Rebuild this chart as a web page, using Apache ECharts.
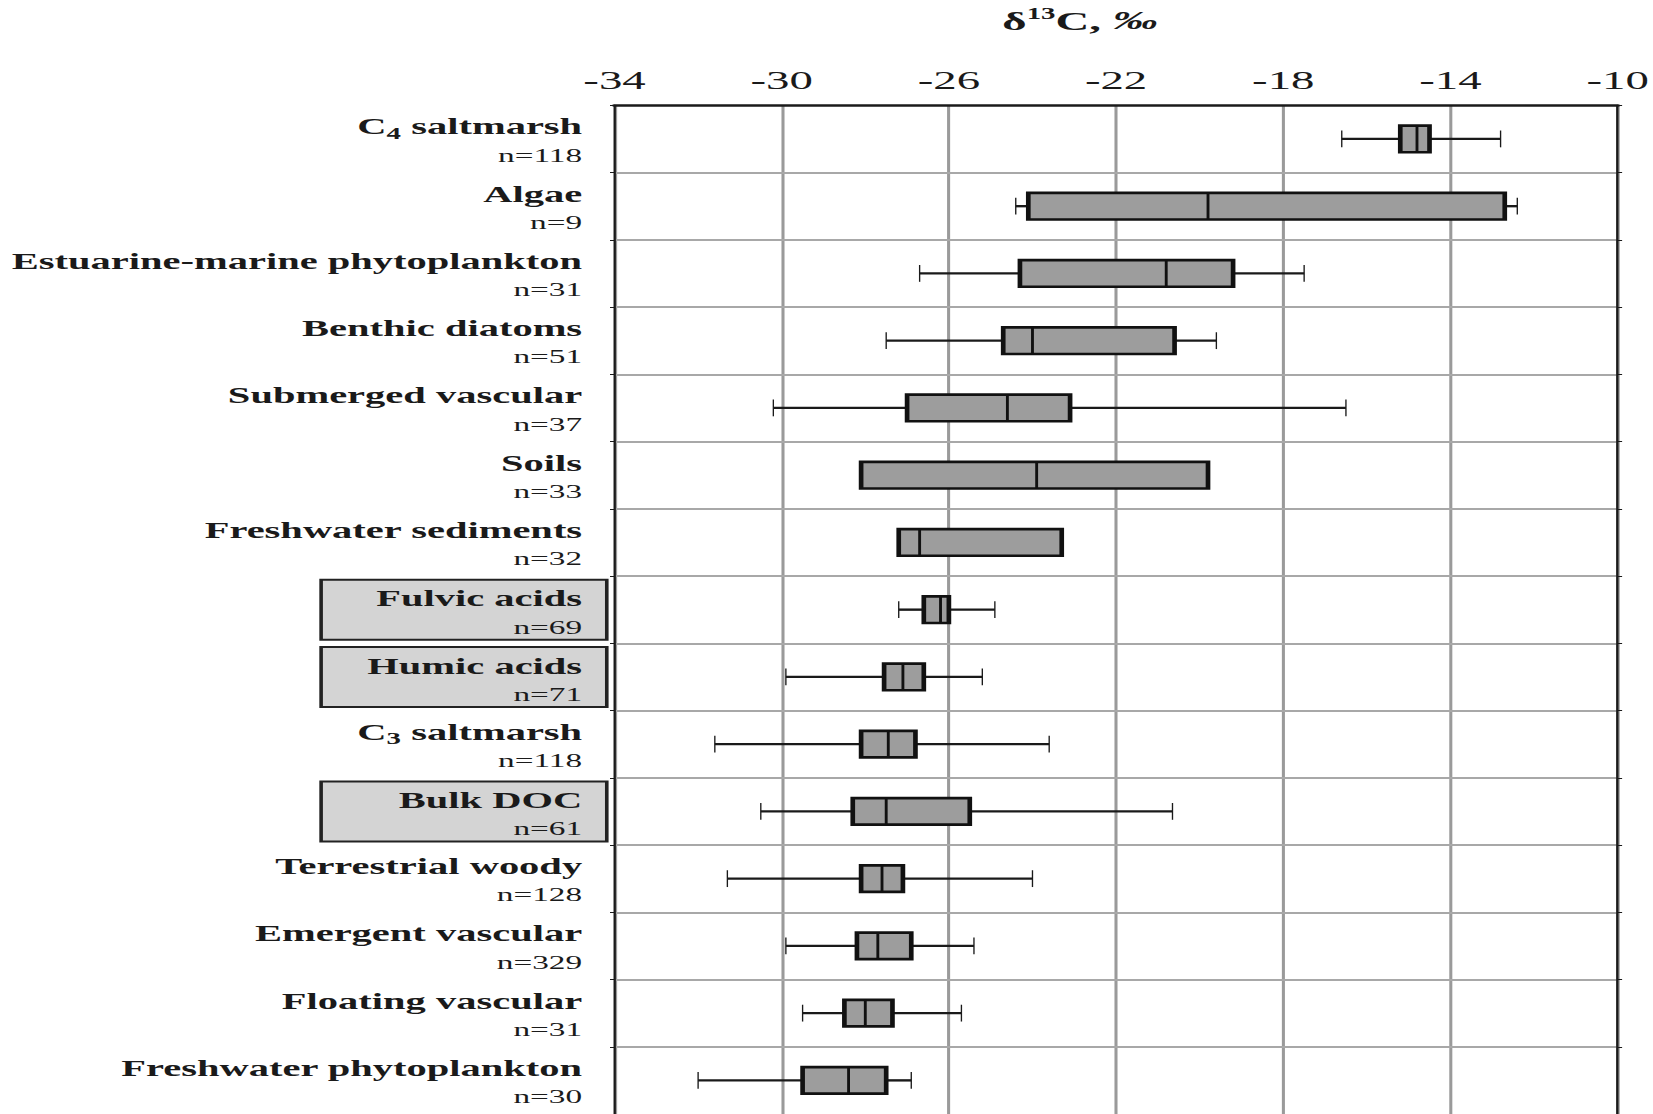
<!DOCTYPE html>
<html>
<head>
<meta charset="utf-8">
<script src="https://cdn.jsdelivr.net/npm/echarts/dist/echarts.min.js"></script>
<style>
html, body { margin: 0; padding: 0; background: #ffffff; overflow: hidden; width: 1653px; height: 1114px; }
#chart { width: 919px; height: 1114px; transform: scaleX(1.8); transform-origin: 0 0; }
</style>
</head>
<body>
<div id="chart"></div>
<script>
// ---- data ----
const categories = ['C₄ saltmarsh', 'Algae', 'Estuarine-marine phytoplankton', 'Benthic diatoms',
  'Submerged vascular', 'Soils', 'Freshwater sediments', 'Fulvic acids', 'Humic acids',
  'C₃ saltmarsh', 'Bulk DOC', 'Terrestrial woody', 'Emergent vascular', 'Floating vascular',
  'Freshwater phytoplankton'];
const sampleCounts = [118, 9, 31, 51, 37, 33, 32, 69, 71, 118, 61, 128, 329, 31, 30];
const boxedLabels = ['Fulvic acids', 'Humic acids', 'Bulk DOC'];
const whiskerLow  = [-16.6, -24.4, -26.7, -27.5, -30.2, -28.1, -27.2, -27.2, -29.9, -31.6, -30.5, -31.3, -29.9, -29.5, -32.0];
const quartile1   = [-15.2, -24.1, -24.3, -24.7, -27.0, -28.1, -27.2, -26.6, -27.55, -28.1, -28.3, -28.1, -28.2, -28.5, -29.5];
const medians     = [-14.8, -19.8, -20.8, -24.0, -24.6, -23.9, -26.7, -26.2, -27.1, -27.45, -27.5, -27.6, -27.7, -28.0, -28.4];
const quartile3   = [-14.5, -12.7, -19.2, -20.6, -23.1, -19.8, -23.3, -26.0, -26.6, -26.8, -25.5, -27.1, -26.9, -27.35, -27.5];
const whiskerHigh = [-12.8, -12.4, -17.5, -19.6, -16.5, -19.8, -23.3, -24.9, -25.2, -23.6, -20.65, -24.0, -25.4, -25.7, -26.9];
const xMin = -34, xMax = -10, xStep = 4;
const axisTitle = '{d|δ}{s|13}{c|C, }{p|‰}';

// ---- chart ----
const SERIF = "'Liberation Serif', 'DejaVu Serif', 'Times New Roman', serif";
const INK = '#1a1a1a';

const rows = categories.map((c, i) => [i, whiskerLow[i], quartile1[i], medians[i], quartile3[i], whiskerHigh[i]]);

const yData = categories.map(c => boxedLabels.indexOf(c) >= 0 ? {
  value: c,
  textStyle: {
    backgroundColor: '#d4d4d4', borderColor: '#222222', borderWidth: 2,
    padding: [4, 12.7, -3, 0], width: 144
  }
} : c);

function labelFormatter(value, idx) {
  const name = value.replace(/([\u2080-\u2089])/g, m => '}{sub|' + (m.charCodeAt(0) - 0x2080) + '}{b|');
  return '{b|' + name + '}\n{n|n=' + sampleCounts[idx] + '}';
}

function renderItem(params, api) {
  const c = api.value(0);
  const pLo = api.coord([api.value(1), c]);
  const pQ1 = api.coord([api.value(2), c]);
  const pMd = api.coord([api.value(3), c]);
  const pQ3 = api.coord([api.value(4), c]);
  const pHi = api.coord([api.value(5), c]);
  const band = api.size([0, 1])[1];
  const y = pMd[1];
  const bh = band * 0.395, ch = band * 0.25;
  const whisk = { stroke: INK, lineWidth: 2.4 };
  const cap = { stroke: INK, lineWidth: 0.75 };
  const kids = [];
  if (pQ1[0] - pLo[0] > 0.3) {
    kids.push({ type: 'line', shape: { x1: pLo[0], y1: y, x2: pQ1[0], y2: y }, style: whisk });
    kids.push({ type: 'line', shape: { x1: pLo[0], y1: y - ch / 2, x2: pLo[0], y2: y + ch / 2 }, style: cap });
  }
  if (pHi[0] - pQ3[0] > 0.3) {
    kids.push({ type: 'line', shape: { x1: pQ3[0], y1: y, x2: pHi[0], y2: y }, style: whisk });
    kids.push({ type: 'line', shape: { x1: pHi[0], y1: y - ch / 2, x2: pHi[0], y2: y + ch / 2 }, style: cap });
  }
  kids.push({ type: 'rect', shape: { x: pQ1[0], y: y - bh / 2, width: pQ3[0] - pQ1[0], height: bh },
    style: { fill: '#9d9d9d', stroke: '#111111', lineWidth: 2.6 } });
  kids.push({ type: 'line', shape: { x1: pMd[0], y1: y - bh / 2, x2: pMd[0], y2: y + bh / 2 },
    style: { stroke: '#111111', lineWidth: 1.6 } });
  return { type: 'group', children: kids };
}

const chart = echarts.init(document.getElementById('chart'), null, { renderer: 'svg' });
chart.setOption({
  animation: false,
  backgroundColor: '#ffffff',
  title: {
    text: axisTitle, left: 600, top: 6, padding: 0, textAlign: 'center',
    textStyle: {
      rich: {
        d: { fontFamily: SERIF, fontSize: 26, color: INK, lineHeight: 30 },
        s: { fontFamily: SERIF, fontSize: 16, fontWeight: 'bold', color: INK, lineHeight: 18, verticalAlign: 'top' },
        c: { fontFamily: SERIF, fontSize: 26, fontWeight: 'bold', color: INK, lineHeight: 30 },
        p: { fontFamily: SERIF, fontSize: 25, fontStyle: 'italic', color: INK, lineHeight: 30 }
      }
    }
  },
  grid: { left: 341.4, top: 105.3, width: 561.7, height: 1012.5, show: false },
  xAxis: {
    type: 'value', position: 'top', min: xMin, max: xMax, interval: xStep, z: 1,
    axisLine: { show: true, lineStyle: { color: INK, width: 2.7 } },
    axisTick: { show: false },
    axisLabel: { fontFamily: SERIF, fontSize: 26, color: INK, margin: 12, formatter: v => String(v) },
    splitLine: { show: true, lineStyle: { color: '#9a9a9a', width: 1.7 } }
  },
  yAxis: [{
    type: 'category', inverse: true, data: yData, position: 'left', z: 3,
    axisLine: { show: true, lineStyle: { color: INK, width: 1.3 } },
    axisTick: { show: true, length: 2.5, lineStyle: { color: INK, width: 1 } },
    splitLine: { show: true, showMinLine: false, showMaxLine: false, lineStyle: { color: '#a8a8a8', width: 2 } },
    axisLabel: {
      interval: 0, margin: 5.3, padding: [4.4, 12.7, 0, 0], formatter: labelFormatter,
      rich: {
        b: { fontFamily: SERIF, fontSize: 22.5, fontWeight: 'bold', color: INK, lineHeight: 28.5, align: 'right' },
        sub: { fontFamily: SERIF, fontSize: 16, fontWeight: 'bold', color: INK, lineHeight: 16, verticalAlign: 'bottom', align: 'right' },
        n: { fontFamily: SERIF, fontSize: 18.5, color: INK, lineHeight: 28.5, align: 'right' }
      }
    }
  }, {
    type: 'category', inverse: true, data: categories, position: 'right', z: 3,
    axisLine: { show: true, lineStyle: { color: INK, width: 1.3 } },
    axisTick: { show: true, length: 2.5, lineStyle: { color: INK, width: 1 } },
    axisLabel: { show: false },
    splitLine: { show: false }
  }],
  series: [{
    type: 'custom', xAxisIndex: 0, yAxisIndex: 0, z: 5,
    renderItem: renderItem,
    encode: { x: [1, 2, 3, 4, 5], y: 0 },
    data: rows
  }]
});
</script>
</body>
</html>
